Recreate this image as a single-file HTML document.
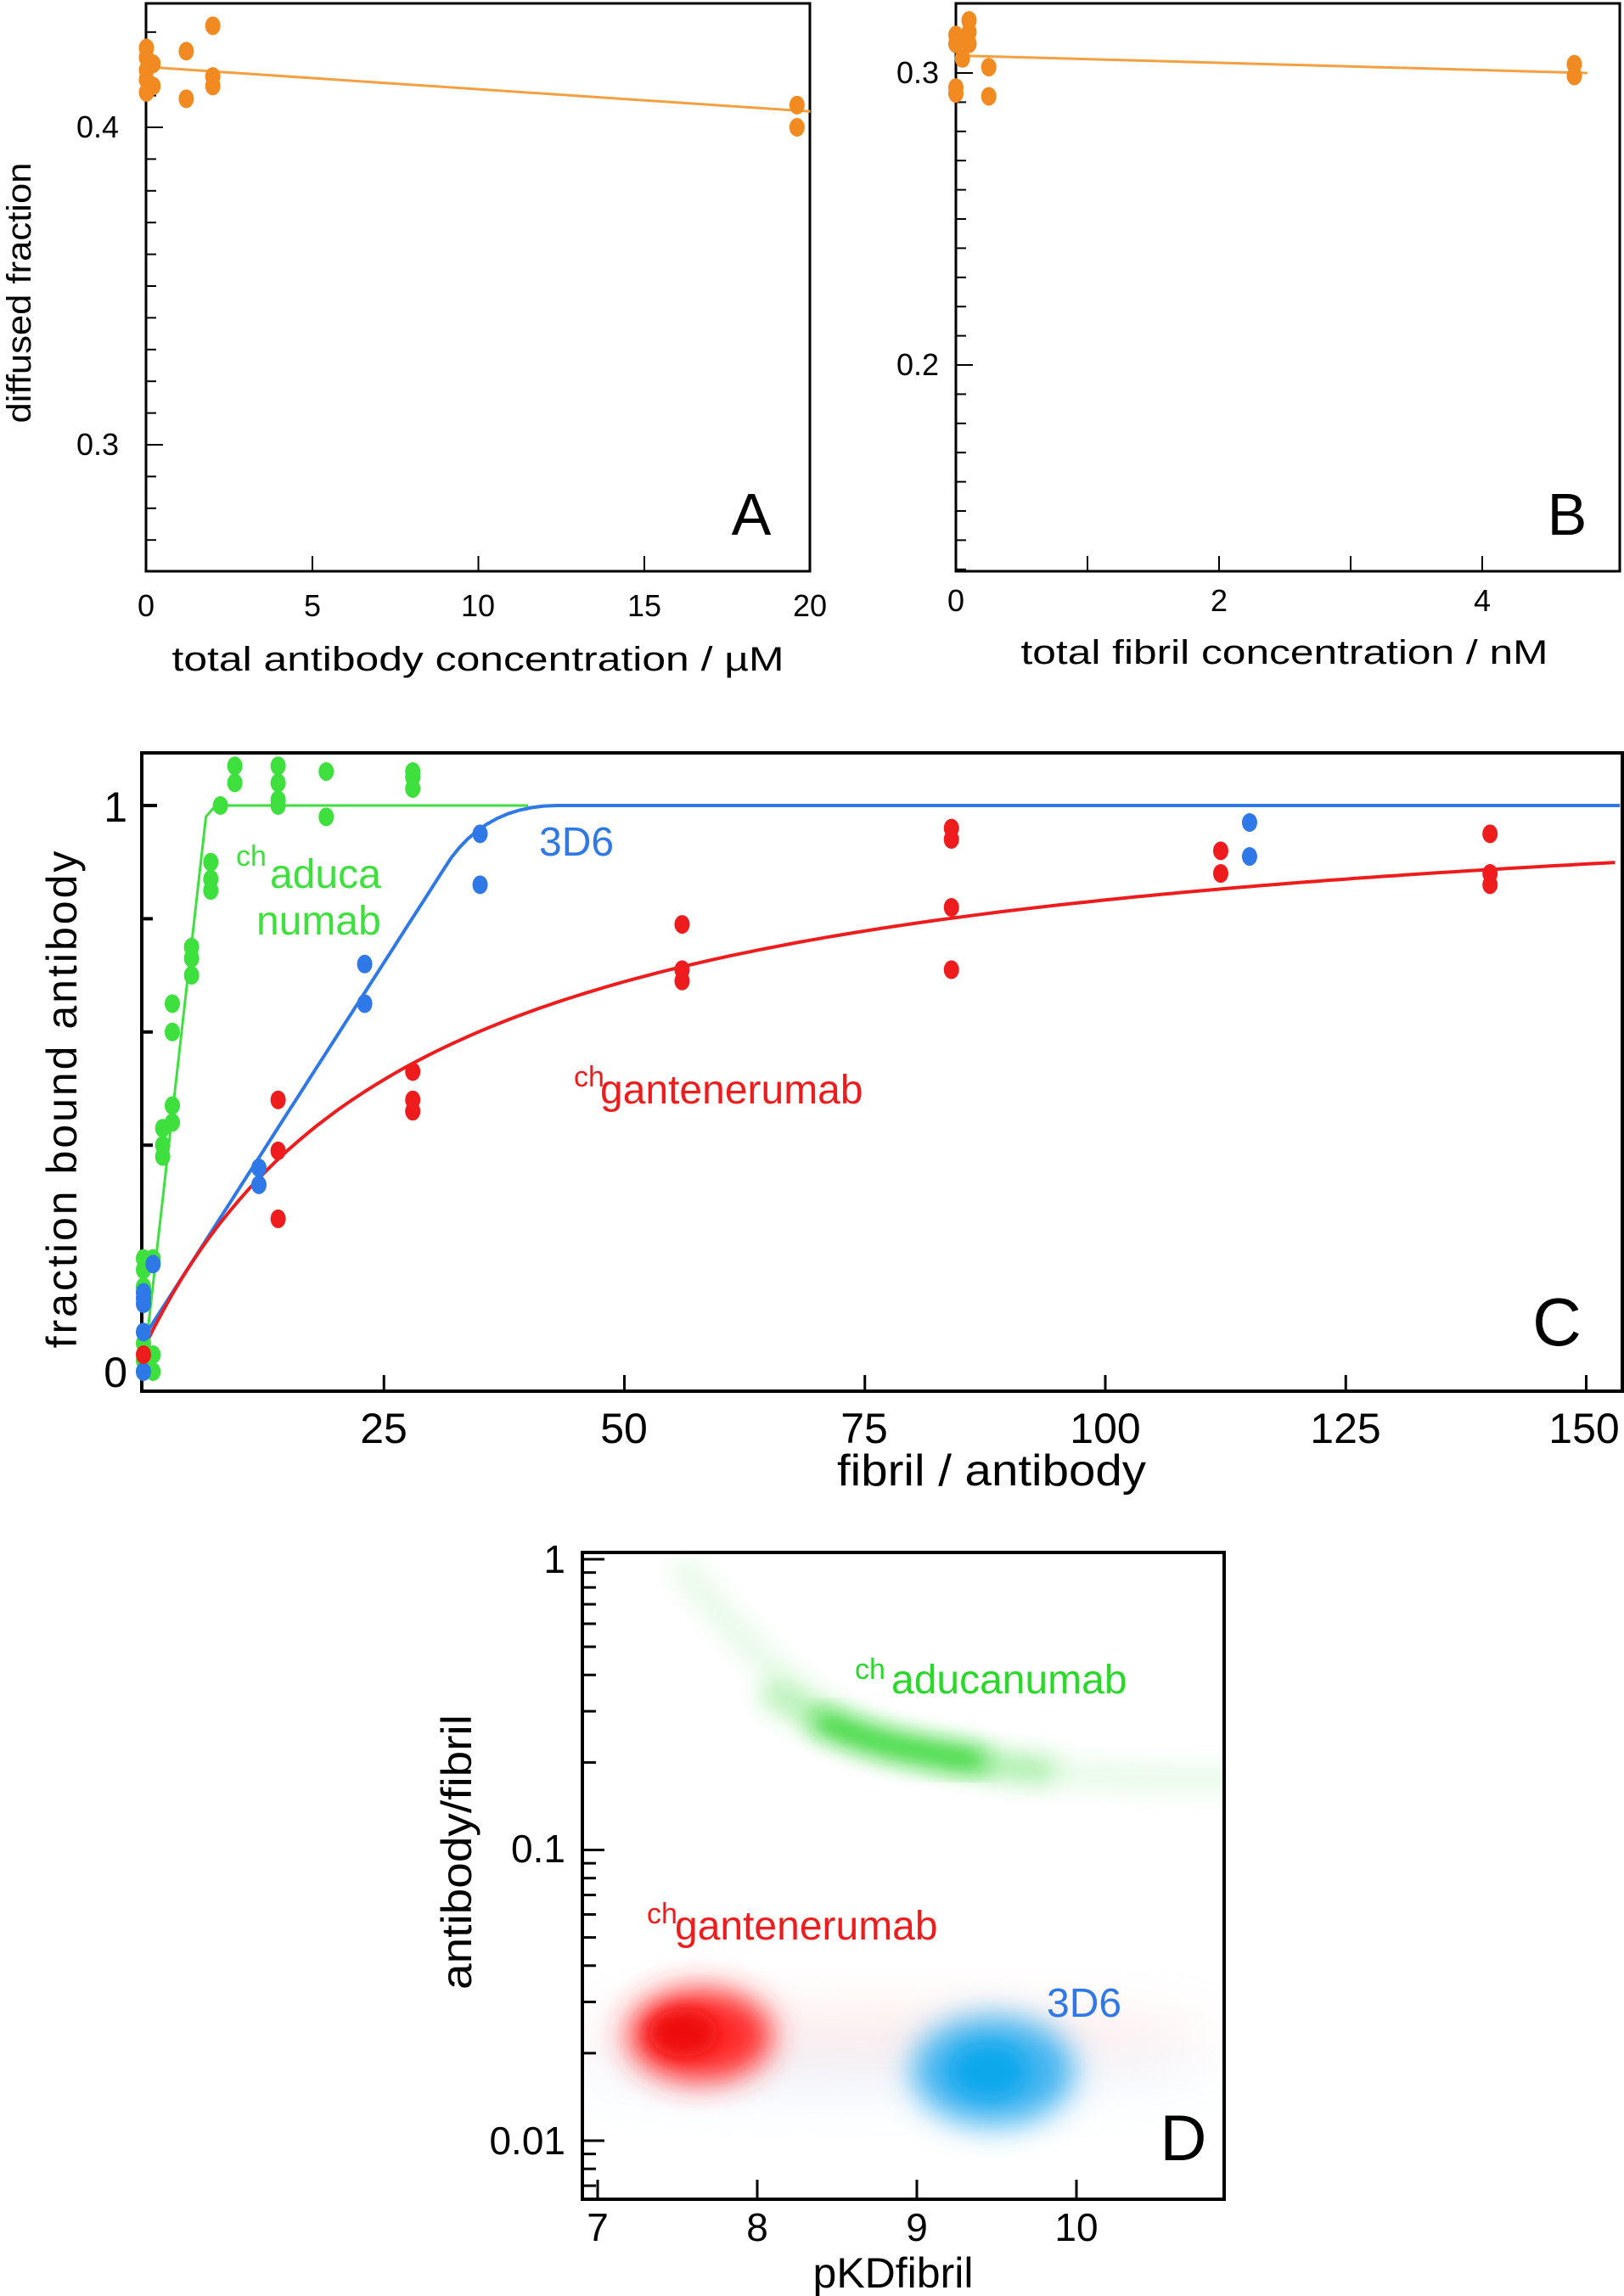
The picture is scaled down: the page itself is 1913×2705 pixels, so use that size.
<!DOCTYPE html>
<html><head><meta charset="utf-8"><style>
html,body{margin:0;padding:0;background:#fff}
svg{display:block}
.a{font-family:"Liberation Sans",sans-serif;fill:#000}
.n{font-family:"Liberation Sans Narrow","Liberation Sans",sans-serif}
</style></head><body>
<svg id="s" width="1913" height="2705" viewBox="0 0 1913 2705" xmlns="http://www.w3.org/2000/svg">
<defs>
<filter id="b1" x="-50%" y="-50%" width="200%" height="200%"><feGaussianBlur stdDeviation="18"/></filter>
<filter id="b2" x="-50%" y="-50%" width="200%" height="200%"><feGaussianBlur stdDeviation="30"/></filter>
<filter id="b3" x="-50%" y="-50%" width="200%" height="200%"><feGaussianBlur stdDeviation="10"/></filter>
<filter id="b4" x="-50%" y="-50%" width="200%" height="200%"><feGaussianBlur stdDeviation="14"/></filter>
<clipPath id="cd"><rect x="686" y="1829" width="756" height="762"/></clipPath>
</defs>
<!-- Panel A -->
<rect x="172" y="4" width="782" height="669" fill="none" stroke="#000" stroke-width="3"/>
<g class="a" font-size="36" text-anchor="middle">
<text x="172" y="726">0</text><text x="368" y="726">5</text><text x="563" y="726">10</text><text x="759" y="726">15</text><text x="954" y="726">20</text>
<text x="140" y="162" text-anchor="end">0.4</text><text x="140" y="536" text-anchor="end">0.3</text>
<text x="563" y="790" font-size="40" textLength="721" lengthAdjust="spacingAndGlyphs">total antibody concentration / µM</text>
<text transform="translate(36,345) rotate(-90)" font-size="40" textLength="307" lengthAdjust="spacingAndGlyphs">diffused fraction</text>
<text x="885" y="630" font-size="70" class="n">A</text>
</g>
<!-- Panel B -->
<rect x="1126" y="4" width="782" height="669" fill="none" stroke="#000" stroke-width="3"/>
<g class="a" font-size="36" text-anchor="middle">
<text x="1126" y="720">0</text><text x="1436" y="720">2</text><text x="1746" y="720">4</text>
<text x="1106" y="98" text-anchor="end">0.3</text><text x="1106" y="442" text-anchor="end">0.2</text>
<text x="1513" y="782" font-size="40" textLength="621" lengthAdjust="spacingAndGlyphs">total fibril concentration / nM</text>
<text x="1846" y="630" font-size="70" class="n">B</text>
</g>
<!-- Panel C -->
<rect x="167" y="887" width="1744" height="752" fill="none" stroke="#000" stroke-width="4"/>
<g class="a n" font-size="50" text-anchor="middle">
<text x="452" y="1700">25</text><text x="735" y="1700">50</text><text x="1018" y="1700">75</text><text x="1302" y="1700">100</text><text x="1585" y="1700">125</text><text x="1866" y="1700">150</text>
<text x="150" y="968" text-anchor="end">1</text><text x="150" y="1634" text-anchor="end">0</text>
<text x="1168" y="1750" font-size="52" textLength="364" lengthAdjust="spacingAndGlyphs">fibril / antibody</text>
<text transform="translate(90,1294) rotate(-90)" font-size="50" style="font-family:'Liberation Sans',sans-serif" letter-spacing="3">fraction bound antibody</text>
<text x="1834" y="1585" font-size="80">C</text>
</g>
<g class="n" font-size="48">
<text x="278" y="1020" fill="#3de03d" font-size="34">ch</text>
<text x="318" y="1046" fill="#3de03d">aduca</text>
<text x="302" y="1101" fill="#3de03d">numab</text>
<text x="635" y="1008" fill="#2f78e8">3D6</text>
<text x="676" y="1280" fill="#ee1c1c" font-size="34">ch</text>
<text x="707" y="1300" fill="#ee1c1c">gantenerumab</text>
</g>
<!-- Panel D -->
<g id="dblobs" clip-path="url(#cd)"></g>
<rect x="686" y="1829" width="756" height="762" fill="none" stroke="#000" stroke-width="4"/>
<g class="a n" font-size="46" text-anchor="middle">
<text x="704" y="2640">7</text><text x="892" y="2640">8</text><text x="1080" y="2640">9</text><text x="1268" y="2640">10</text>
<text x="666" y="1853" text-anchor="end">1</text><text x="666" y="2194" text-anchor="end">0.1</text><text x="666" y="2538" text-anchor="end">0.01</text>
<text x="1052" y="2695" font-size="50">pKDfibril</text>
<text transform="translate(555,2182) rotate(-90)" font-size="50" textLength="324" lengthAdjust="spacingAndGlyphs">antibody/fibril</text>
<text x="1394" y="2545" font-size="76">D</text>
</g>
<g class="n" font-size="48">
<text x="1007" y="1978" fill="#2ad82a" font-size="34">ch</text>
<text x="1050" y="1995" fill="#2ad82a">aducanumab</text>
<text x="762" y="2266" fill="#ee1c1c" font-size="34">ch</text>
<text x="795" y="2285" fill="#ee1c1c">gantenerumab</text>
<text x="1233" y="2376" fill="#2f78e8">3D6</text>
</g>
<g id="dyn"></g>
</svg>
<script>
var NS="http://www.w3.org/2000/svg",g=document.getElementById("dyn");
function el(t,a,p){var e=document.createElementNS(NS,t);for(var k in a)e.setAttribute(k,a[k]);(p||g).appendChild(e);return e;}
function line(x1,y1,x2,y2,w){el("line",{x1:x1,y1:y1,x2:x2,y2:y2,stroke:"#000","stroke-width":w||3});}
function dot(x,y,c,rx,ry){el("ellipse",{cx:x,cy:y,rx:rx||9,ry:ry||11,fill:c});}
function path(pts,c,w){el("path",{d:"M"+pts.map(p=>p[0].toFixed(1)+","+p[1].toFixed(1)).join("L"),fill:"none",stroke:c,"stroke-width":w});}
// A
var AX=v=>172.5+v*39.1,AY=v=>150+(0.4-v)*3740;
for(var v=0.27;v<=0.435;v+=0.01){var y=AY(v);var maj=Math.abs(v-0.3)<.001||Math.abs(v-0.4)<.001;line(172,y,maj?192:184,y,2);}
[5,10,15].forEach(v=>line(AX(v),673,AX(v),655,2));
path([[AX(0),AY(0.419)],[AX(20),AY(0.405)]],"#f5a040",3);
var oa="#f28a22";
[[0,.425],[0,.422],[0,.418],[0,.415],[0,.411],[0.2,.42],[0.2,.413],[1.2,.424],[1.2,.409],[2,.432],[2,.416],[2,.413],[19.6,.407],[19.6,.4]].forEach(p=>dot(AX(p[0]),AY(p[1]),oa));
// B
var BX=v=>1126+v*155,BY=v=>86+(0.3-v)*3440;
for(var v=0.13;v<=0.32;v+=0.01){var y=BY(v);if(y<6)continue;var maj=Math.abs(v-0.2)<.001||Math.abs(v-0.3)<.001;line(1126,y,maj?1146:1138,y,2);}
[1,2,3,4].forEach(v=>line(BX(v),673,BX(v),655,2));
path([[BX(0),BY(0.306)],[BX(4.8),BY(0.3)]],"#f5a040",3);
[[0,.313],[0,.31],[0,.295],[0,.293],[0.1,.318],[0.1,.314],[0.1,.31],[0.05,.305],[0.25,.302],[0.25,.292],[4.7,.303],[4.7,.299]].forEach(p=>dot(BX(p[0]),BY(p[1]),oa));
// C
var CX=v=>169+v*11.33,CY=v=>1616-v*667;
[0,.2,.4,.6,.8,1].forEach(v=>line(167,CY(v),(v==0||v==1)?185:180,CY(v),4));
[25,50,75,100,125,150].forEach(v=>line(CX(v),1639,CX(v),1620,3));
var G="#3de03d",B="#2f78e8",R="#ee1c1c";
path([[CX(0.3),CY(0.05)],[CX(6.5),CY(0.98)],[CX(7.5),CY(1)],[CX(40),CY(1)]],G,3);
var bp=[];for(var x=0;x<=32;x+=1)bp.push([CX(x),CY(0.06+x*0.0265)]);
for(var t=0.1;t<=1.001;t+=0.1){var x0=32,x1=36,x2=43,y0=0.06+32*0.0265,y1=0.06+36*0.0265,y2=1;
var xx=(1-t)*(1-t)*x0+2*(1-t)*t*x1+t*t*x2,yy=(1-t)*(1-t)*y0+2*(1-t)*t*Math.min(y1,1)+t*t*y2;bp.push([CX(xx),CY(yy)]);}
bp.push([CX(153.5),CY(1)]);
path(bp,B,4);
var rp=[];for(var x=0;x<=153.5;x+=1)rp.push([CX(x),CY(0.04+x/(28.6+x)*1.02)]);
path(rp,R,4);
[[0,0],[0,.02],[0,.05],[0,.15],[0,.18],[0,.2],[1,.03],[1,0],[1,.2],[2,.38],[2,.4],[2,.43],[3,.44],[3,.47],[3,.6],[3,.65],[5,.7],[5,.73],[5,.75],[7,.85],[7,.87],[7,.9],[8,1],[9.5,1.04],[9.5,1.07],[14,1.0],[14,1.01],[14,1.04],[14,1.07],[19,.98],[19,1.06],[28,1.03],[28,1.05],[28,1.06]].forEach(p=>dot(CX(p[0]),CY(p[1]),G,9,11));
[[0,0],[0,.07],[0,.12],[0,.13],[0,.14],[1,.19],[12,.33],[12,.36],[23,.65],[23,.72],[35,.86],[35,.95],[115,.97],[115,.91]].forEach(p=>dot(CX(p[0]),CY(p[1]),B,9,11));
[[0,.03],[14,.27],[14,.39],[14,.48],[28,.46],[28,.48],[28,.53],[56,.69],[56,.71],[56,.79],[84,.71],[84,.82],[84,.94],[84,.96],[112,.92],[112,.88],[140,.95],[140,.88],[140,.86]].forEach(p=>dot(CX(p[0]),CY(p[1]),R,9,11));
// D
var DX=v=>704+(v-7)*188,DY=v=>2522-(Math.log10(v)+2)*342.5;
for(var d=-3;d<=0;d++)for(var m=1;m<10;m++){var v=m*Math.pow(10,d),y=DY(v);if(y<1831||y>2589)continue;line(686,y,m==1?712:702,y,3);}
[7,8,9,10].forEach(v=>line(DX(v),2591,DX(v),2568,3));
var bl=document.getElementById("dblobs");
var gp="M800,1840 Q880,1950 980,2020 Q1060,2065 1180,2082 Q1320,2098 1460,2096";
el("path",{d:gp,fill:"none",stroke:"#30d830","stroke-width":30,opacity:0.12,filter:"url(#b4)"},bl);
el("path",{d:"M900,1990 Q980,2040 1060,2060 Q1140,2078 1240,2086",fill:"none",stroke:"#30d830","stroke-width":30,opacity:0.35,filter:"url(#b4)"},bl);
el("path",{d:"M960,2025 Q1020,2052 1070,2060 Q1120,2070 1160,2075",fill:"none",stroke:"#18d018","stroke-width":26,opacity:0.85,filter:"url(#b4)"},bl);
el("ellipse",{cx:1050,cy:2400,rx:380,ry:40,fill:"#ffb0a8",opacity:0.2,filter:"url(#b2)"},bl);
el("ellipse",{cx:1050,cy:2440,rx:380,ry:40,fill:"#b0d8ff",opacity:0.15,filter:"url(#b2)"},bl);
el("ellipse",{cx:825,cy:2398,rx:85,ry:55,fill:"#ff2a2a",filter:"url(#b1)"},bl);
el("ellipse",{cx:805,cy:2395,rx:40,ry:28,fill:"#ee1010",filter:"url(#b3)"},bl);
el("ellipse",{cx:1170,cy:2440,rx:95,ry:65,fill:"#40b4f0",filter:"url(#b1)"},bl);
el("ellipse",{cx:1165,cy:2440,rx:45,ry:32,fill:"#10a8ec",filter:"url(#b3)"},bl);
</script>
</body></html>
